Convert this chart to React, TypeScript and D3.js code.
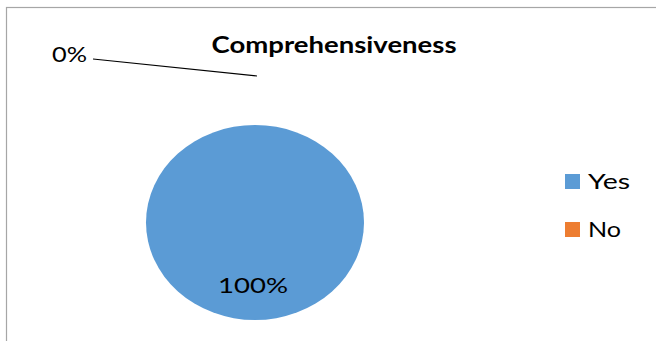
import React from "react";
import * as d3 from "d3";

const categories = ["Yes", "No"];
const values = [100, 0];
const labels = ["100%", "0%"];
const colors = ["#5B9BD5", "#ED7D31"];
const title = "Comprehensiveness";

export default function App() {
  const W = 656, H = 341;
  const cx = 255, cy = 222.5, rx = 109, ry = 97.5;
  const pie = d3.pie<number>().sort(null).value((d) => d)(values);
  const arc = d3.arc<d3.PieArcDatum<number>>().innerRadius(0).outerRadius(1);
  const font = "Lato, 'Open Sans', sans-serif";
  return (
    <svg width={W} height={H} style={{ position: "absolute", left: 0, top: 0, background: "#fff" }}>
      <rect x={6.5} y={7.5} width={W + 10} height={H + 10} fill="#fff" stroke="#a6a6a6" strokeWidth={1.2} />
      <text x={334} y={53} textAnchor="middle" fontFamily={font} fontWeight="bold" fontSize={22} fill="#000"
        textLength={245} lengthAdjust="spacingAndGlyphs">{title}</text>
      <g transform={`translate(${cx},${cy}) scale(${rx},${ry})`}>
        {pie.map((p, i) => (
          <path key={i} d={arc(p) || ""} fill={colors[i]} />
        ))}
      </g>
      <text x={253} y={293} textAnchor="middle" fontFamily={font} fontSize={22} fill="#000"
        textLength={70} lengthAdjust="spacingAndGlyphs">{labels[0]}</text>
      <text x={52} y={62} fontFamily={font} fontSize={22} fill="#000"
        textLength={35} lengthAdjust="spacingAndGlyphs">{labels[1]}</text>
      <line x1={93} y1={59} x2={257} y2={76} stroke="#000" strokeWidth={1.2} />
      {categories.map((c, i) => (
        <g key={c}>
          <rect x={565} y={174 + i * 48} width={15} height={15} fill={colors[i]} />
          <text x={588} y={189 + i * 48} fontFamily={font} fontSize={22} fill="#000"
            textLength={i === 0 ? 42 : 33} lengthAdjust="spacingAndGlyphs">{c}</text>
        </g>
      ))}
    </svg>
  );
}
